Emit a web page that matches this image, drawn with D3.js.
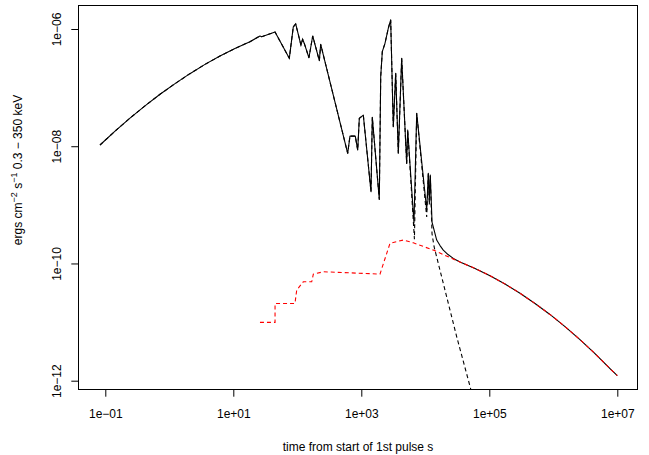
<!DOCTYPE html>
<html lang="en">
<head>
    <meta charset="UTF-8">
    <title>Flux vs time</title>
    <style>
        body { margin: 0; background: #fff; }
        svg text { font-family: "Liberation Sans", Arial, sans-serif; fill: #000; }
    </style>
</head>
<body>
    <svg width="649" height="455"></svg>

    <script src="https://d3js.org/d3.v7.min.js"></script>
    <script>
        // total light curve (solid black)
        const totalTime = [0.0826, 0.142, 0.243, 0.417, 0.716, 1.23, 2.10, 3.61, 6.19, 10.6, 18.2, 26.1, 27.8, 44.9, 75.0, 86.6, 94.4, 114, 121, 130, 152, 174, 221, 232,
            613, 665, 805, 879, 931, 1075, 1418, 1486, 1911, 2010, 2129, 2345, 2642, 2878, 3162, 3447, 3786, 4276, 5119, 5308,
            6650, 7340, 10520, 11140, 11550, 11970, 12740, 15070, 16980, 19110, 22640, 27380, 34830,
            59840, 102600, 175900, 302000, 517600, 887000, 1524000, 2610000, 4480000, 7690000, 10000000];
        const totalFlux = [1.05e-8, 1.81e-8, 3.02e-8, 4.89e-8, 7.69e-8, 1.17e-7, 1.73e-7, 2.49e-7, 3.45e-7, 4.65e-7, 6.07e-7, 7.6e-7, 7.39e-7, 8.89e-7, 3.16e-7, 1.09e-6, 1.22e-6, 5.33e-7, 6.67e-7, 5.48e-7, 3.23e-7, 7.6e-7, 2.88e-7, 5.48e-7,
            7.57e-9, 1.49e-8, 1.49e-8, 8.61e-9, 2.99e-8, 3.40e-8, 1.67e-9, 3.11e-8, 1.24e-9, 1.53e-7, 4.1e-7, 5.7e-7, 1.03e-6, 1.43e-6, 2.15e-8, 1.75e-7, 7.57e-9, 3.16e-7, 5.1e-9, 1.89e-8,
            4.89e-10, 3.64e-8, 8.15e-10, 3.45e-9, 1.21e-9, 3.23e-9, 5.08e-10, 2.51e-10, 2.02e-10, 1.69e-10, 1.42e-10, 1.22e-10, 1.06e-10,
            8.24e-11, 6.19e-11, 4.47e-11, 3.11e-11, 2.08e-11, 1.35e-11, 8.38e-12, 5.02e-12, 2.90e-12, 1.61e-12, 1.22e-12];

        // pulse component: same as total until ~5300 s, then its own tail (dashed black)
        const promptTailTime = [6761, 7340, 10520, 11140, 11550, 11970, 12740, 13720, 30970, 59840];
        const promptTailFlux = [2.6e-10, 3.64e-8, 6.2e-10, 3.4e-9, 1.0e-9, 3.1e-9, 3.2e-10, 1.93e-10, 5.61e-12, 3.84e-13];

        // afterglow component (dashed red)
        const afterglowTime = [26.1, 44.9, 44.9, 92.0, 97.9, 124, 168, 178, 255, 1959, 2805, 4529, 6494, 13340, 34830,
            59840, 102600, 175900, 302000, 517600, 887000, 1524000, 2610000, 4480000, 7690000, 10000000];
        const afterglowFlux = [9.89e-12, 9.89e-12, 2.08e-11, 2.08e-11, 3.52e-11, 4.87e-11, 4.87e-11, 6.59e-11, 7.22e-11, 6.59e-11, 2.2e-10, 2.51e-10, 2.25e-10, 1.69e-10, 1.06e-10,
            8.24e-11, 6.19e-11, 4.47e-11, 3.11e-11, 2.08e-11, 1.35e-11, 8.38e-12, 5.02e-12, 2.90e-12, 1.61e-12, 1.22e-12];

        const xTicks = [1e-1, 1e1, 1e3, 1e5, 1e7];
        const xTickLabels = ["1e\u221201", "1e+01", "1e+03", "1e+05", "1e+07"];
        const yTicks = [1e-6, 1e-8, 1e-10, 1e-12];
        const yTickLabels = ["1e\u221206", "1e\u221208", "1e\u221210", "1e\u221212"];

        const box = { left: 78.5, right: 637.5, top: 5.5, bottom: 389.5 };

        const svg = d3.select("svg");

        const x = d3.scaleLog().domain([1e-1, 1e7]).range([105.3, 617.3]);
        const y = d3.scaleLog().domain([1e-6, 1e-12]).range([29, 380.7]);

        svg.append("clipPath").attr("id", "plotclip")
            .append("rect")
            .attr("x", box.left).attr("y", box.top)
            .attr("width", box.right - box.left).attr("height", box.bottom - box.top);

        const line = d3.line().x(d => x(d[0])).y(d => y(d[1]));

        const total = d3.zip(totalTime, totalFlux);
        const prompt = total.filter(d => d[0] <= 5308).concat(d3.zip(promptTailTime, promptTailFlux));
        const afterglow = d3.zip(afterglowTime, afterglowFlux);

        const plot = svg.append("g").attr("clip-path", "url(#plotclip)");

        plot.append("path").datum(total)
            .attr("d", line)
            .attr("fill", "none")
            .attr("stroke", "#000")
            .attr("stroke-width", 1.1)
            .attr("stroke-linejoin", "round");

        plot.append("path").datum(prompt)
            .attr("d", line)
            .attr("fill", "none")
            .attr("stroke", "#000")
            .attr("stroke-width", 1.1)
            .attr("stroke-dasharray", "4,3");

        plot.append("path").datum(afterglow)
            .attr("d", line)
            .attr("fill", "none")
            .attr("stroke", "#ff0000")
            .attr("stroke-width", 1.1)
            .attr("stroke-dasharray", "4,3");

        // box
        svg.append("rect")
            .attr("x", box.left).attr("y", box.top)
            .attr("width", box.right - box.left).attr("height", box.bottom - box.top)
            .attr("fill", "none").attr("stroke", "#000").attr("stroke-width", 1);

        // x axis
        const xAxis = svg.append("g")
            .attr("transform", `translate(0,${box.bottom})`)
            .call(d3.axisBottom(x).tickValues(xTicks).tickSize(7.2)
                .tickFormat((d, i) => xTickLabels[i]));
        xAxis.select(".domain").remove();
        xAxis.selectAll("line").attr("stroke", "#000");
        xAxis.selectAll("text")
            .attr("y", 28.5).attr("dy", 0)
            .style("font-family", "Liberation Sans, Arial, sans-serif")
            .style("font-size", "12px");

        // y axis
        const yAxis = svg.append("g")
            .attr("transform", `translate(${box.left},0)`)
            .call(d3.axisLeft(y).tickValues(yTicks).tickSize(7.2)
                .tickFormat((d, i) => yTickLabels[i]));
        yAxis.select(".domain").remove();
        yAxis.selectAll("line").attr("stroke", "#000");
        yAxis.selectAll("text")
            .attr("transform", "rotate(-90)")
            .attr("x", 0).attr("y", -18).attr("dy", 0)
            .attr("text-anchor", "middle")
            .style("font-family", "Liberation Sans, Arial, sans-serif")
            .style("font-size", "12px");

        // axis titles
        svg.append("text")
            .attr("x", (box.left + box.right) / 2)
            .attr("y", 451)
            .attr("text-anchor", "middle")
            .style("font-size", "12px")
            .text("time from start of 1st pulse s");

        const ylab = svg.append("text")
            .attr("transform", "translate(22,170) rotate(-90)")
            .attr("text-anchor", "middle")
            .style("font-size", "12px");
        ylab.append("tspan").text("ergs cm");
        ylab.append("tspan").attr("dy", -5).style("font-size", "9px").text("\u22122");
        ylab.append("tspan").attr("dy", 5).text(" s");
        ylab.append("tspan").attr("dy", -5).style("font-size", "9px").text("\u22121");
        ylab.append("tspan").attr("dy", 5).text(" 0.3 \u2212 350 keV");
    </script>
</body>
</html>
